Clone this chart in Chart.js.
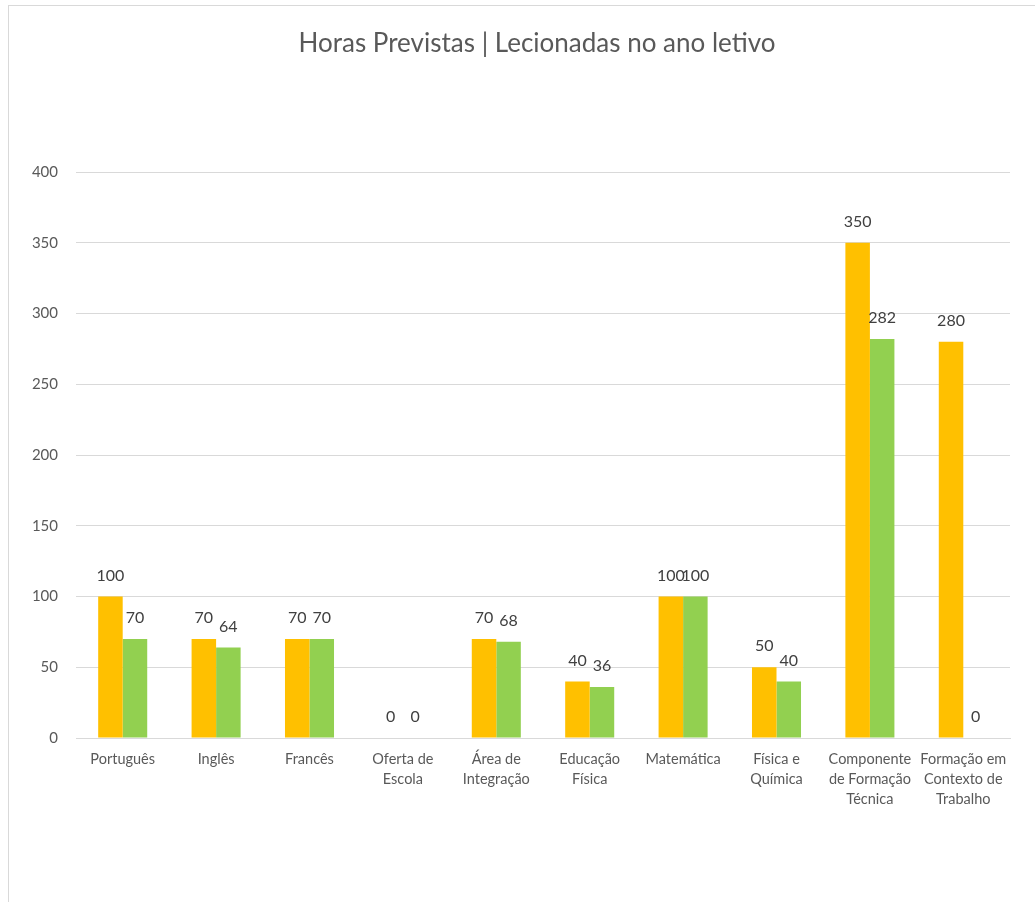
<!DOCTYPE html>
<html>
<head>
<meta charset="utf-8">
<script src="https://cdn.jsdelivr.net/npm/chart.js@4"></script>
<style>
  body { margin: 0; background: #fff; overflow: hidden; }
  #frame { position: absolute; left: 8px; top: 5px; width: 1100px; height: 1000px; border: 1px solid #d9d9d9; }
  #wrap { position: absolute; left: 0; top: 0; width: 1035px; height: 902px; }
</style>
</head>
<body>
<div id="frame"></div>
<div id="wrap"><canvas id="chart" width="1035" height="902"></canvas></div>
<script>
// Chart data
const chartTitle = 'Horas Previstas | Lecionadas no ano letivo';
const categories = [
    ['Português'], ['Inglês'], ['Francês'], ['Oferta de', 'Escola'], ['Área de', 'Integração'],
    ['Educação', 'Física'], ['Matemática'], ['Física e', 'Química'],
    ['Componente', 'de Formação', 'Técnica'], ['Formação em', 'Contexto de', 'Trabalho']
];
const horasPrevistas = [100, 70, 70, 0, 70, 40, 100, 50, 350, 280];
const horasLecionadas = [70, 64, 70, 0, 68, 36, 100, 40, 282, 0];
const yMax = 400;
const yStep = 50;

const FONT = 'Lato, "Open Sans", sans-serif';

// Value labels above each bar
const valueLabels = {
    id: 'valueLabels',
    afterDatasetsDraw(chart) {
        const ctx = chart.ctx;
        ctx.save();
        ctx.font = '16px ' + FONT;
        ctx.fillStyle = '#404040';
        ctx.textAlign = 'center';
        ctx.textBaseline = 'middle';
        chart.data.datasets.forEach((ds, i) => {
            chart.getDatasetMeta(i).data.forEach((bar, j) => {
                ctx.fillText(String(ds.data[j]), bar.x, bar.y - 21);
            });
        });
        ctx.restore();
    }
};

// Title drawn centred over the chart frame
const titleText = {
    id: 'titleText',
    afterDraw(chart) {
        const ctx = chart.ctx;
        ctx.save();
        ctx.font = '26px ' + FONT;
        ctx.fillStyle = '#595959';
        ctx.textAlign = 'center';
        ctx.textBaseline = 'middle';
        ctx.fillText(chartTitle, 537, 44);
        ctx.restore();
    }
};

new Chart(document.getElementById('chart'), {
    type: 'bar',
    data: {
        labels: categories,
        datasets: [{
            label: 'Horas Previstas',
            data: horasPrevistas,
            backgroundColor: '#FFC000',
            categoryPercentage: 0.525,
            barPercentage: 1.0
        }, {
            label: 'Horas Lecionadas',
            data: horasLecionadas,
            backgroundColor: '#92D050',
            categoryPercentage: 0.525,
            barPercentage: 1.0
        }]
    },
    options: {
        responsive: false,
        animation: false,
        layout: { padding: { left: 0, right: 25, top: 172, bottom: 0 } },
        plugins: {
            legend: { display: false },
            title: { display: false },
            tooltip: { enabled: false }
        },
        scales: {
            x: {
                grid: { display: false, drawTicks: false },
                border: { color: '#d9d9d9', width: 1 },
                ticks: {
                    color: '#595959',
                    font: { family: FONT, size: 14.5, lineHeight: 1.35 },
                    padding: 12,
                    maxRotation: 0,
                    autoSkip: false
                },
                afterFit(scale) { scale.height = 164; }
            },
            y: {
                min: 0,
                max: yMax,
                grid: { color: '#d9d9d9', lineWidth: 1, drawTicks: false },
                border: { display: false },
                ticks: {
                    stepSize: yStep,
                    color: '#595959',
                    font: { family: FONT, size: 15 },
                    padding: 18
                },
                afterFit(scale) { scale.width = 76; }
            }
        }
    },
    plugins: [valueLabels, titleText]
});
</script>
</body>
</html>
